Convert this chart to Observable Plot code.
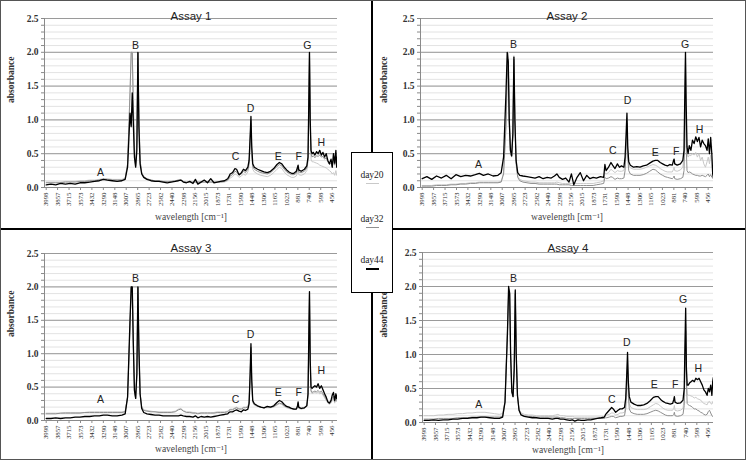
<!DOCTYPE html>
<html>
<head>
<meta charset="utf-8">
<script src="https://cdn.jsdelivr.net/npm/d3@7"></script>
<script src="https://cdn.jsdelivr.net/npm/@observablehq/plot@0.6"></script>
<style>
  html, body { margin: 0; padding: 0; background: #fff; }
  #wrap { position: relative; width: 746px; height: 460px; overflow: hidden; background: #fff; }
  .panel { position: absolute; }
  .line { position: absolute; background: #000; }
  #legend { position: absolute; left: 351px; top: 152px; width: 40px; height: 139px; border: 1.5px solid #000; background: #fff;
            font-family: "Liberation Serif", "DejaVu Serif", serif; font-size: 9.5px; color: #222; }
  #legend .lab { position: absolute; left: 0; width: 40px; text-align: center; }
  #legend .sw { position: absolute; left: 14px; width: 13px; }
  #frame { position: absolute; left: 0; top: 0; width: 746px; height: 460px; box-sizing: border-box; border: 1.5px solid #555; pointer-events: none; }
</style>
</head>
<body>
<div id="wrap"></div>
<script>
// ---- shared wavenumber grid (cm^-1) ----
const wavenumbers = [
3998,3940,3880,3820,3760,3700,3640,3580,3520,3460,
3400,3340,3290,3240,3180,3120,3060,3020,2990,2960,
2945,2932,2920,2905,2890,2875,2862,2850,2835,2815,
2790,2750,2700,2650,2600,2550,2500,2450,2400,2360,
2330,2300,2260,2220,2180,2150,2120,2080,2040,2000,
1960,1920,1880,1840,1790,1750,1735,1720,1690,1660,
1640,1610,1580,1555,1530,1500,1485,1472,1462,1452,
1440,1420,1380,1340,1300,1260,1220,1180,1140,1110,
1080,1050,1020,990,960,930,900,885,878,870,
840,800,770,755,745,737,728,718,705,690,
670,650,630,610,590,570,550,530,510,490,
470,455,440,425,410,400,392];

const tickLabels = [3998,3857,3715,3573,3432,3290,3148,3007,2865,2723,2582,2440,2298,2156,2015,1873,1731,1590,1448,1306,1165,1023,881,740,598,456];
const seriesNames = ["day20","day32","day44"];
const titles = ["Assay 1","Assay 2","Assay 3","Assay 4"];

// ---- Assay 1 ----
const a1_day20 = [
0.08,0.08,0.08,0.08,0.09,0.09,0.09,0.10,0.10,0.11,
0.11,0.12,0.13,0.13,0.12,0.12,0.12,0.14,0.35,1.40,
2.00,2.00,1.30,0.50,0.33,0.70,2.00,1.10,0.40,0.22,
0.16,0.13,0.11,0.10,0.10,0.09,0.09,0.09,0.10,0.11,
0.11,0.09,0.08,0.08,0.08,0.08,0.08,0.08,0.08,0.08,
0.08,0.08,0.08,0.08,0.08,0.10,0.12,0.14,0.16,0.20,
0.19,0.15,0.17,0.20,0.18,0.23,0.32,0.65,0.95,0.50,
0.27,0.23,0.20,0.18,0.17,0.16,0.18,0.22,0.27,0.30,
0.28,0.23,0.19,0.17,0.15,0.15,0.17,0.22,0.26,0.19,
0.18,0.20,0.25,0.38,1.10,2.00,0.90,0.42,0.38,0.38,
0.37,0.36,0.35,0.33,0.32,0.31,0.30,0.29,0.27,0.25,
0.23,0.20,0.22,0.18,0.25,0.18,0.20];
const a1_day32 = [
0.07,0.07,0.07,0.07,0.08,0.08,0.08,0.09,0.09,0.10,
0.10,0.11,0.12,0.12,0.11,0.11,0.11,0.13,0.35,1.40,
2.00,2.00,1.30,0.50,0.32,0.70,2.00,1.10,0.40,0.22,
0.16,0.13,0.11,0.10,0.10,0.09,0.09,0.09,0.10,0.11,
0.11,0.09,0.08,0.08,0.08,0.08,0.08,0.08,0.08,0.08,
0.08,0.08,0.08,0.08,0.09,0.11,0.14,0.17,0.19,0.24,
0.23,0.18,0.20,0.24,0.22,0.27,0.36,0.70,1.00,0.55,
0.31,0.27,0.24,0.22,0.21,0.20,0.22,0.26,0.31,0.34,
0.32,0.27,0.23,0.21,0.19,0.19,0.21,0.27,0.30,0.23,
0.22,0.24,0.29,0.42,1.20,2.00,0.95,0.50,0.45,0.47,
0.44,0.47,0.46,0.48,0.45,0.46,0.42,0.44,0.38,0.34,
0.36,0.30,0.42,0.33,0.45,0.30,0.38];
const a1_day44 = [
0.04,0.05,0.04,0.06,0.05,0.06,0.05,0.07,0.07,0.08,
0.09,0.10,0.12,0.11,0.10,0.09,0.10,0.12,0.30,1.10,
0.90,1.40,1.00,0.45,0.30,0.55,2.00,0.90,0.35,0.20,
0.15,0.12,0.10,0.09,0.09,0.08,0.07,0.08,0.09,0.10,
0.11,0.08,0.07,0.09,0.06,0.12,0.05,0.08,0.11,0.07,
0.13,0.07,0.08,0.09,0.10,0.13,0.16,0.20,0.22,0.28,
0.27,0.19,0.22,0.27,0.25,0.30,0.40,0.75,1.05,0.60,
0.35,0.30,0.27,0.25,0.23,0.22,0.24,0.28,0.34,0.37,
0.35,0.30,0.26,0.23,0.21,0.21,0.24,0.30,0.33,0.26,
0.24,0.27,0.32,0.45,1.30,2.00,1.00,0.55,0.50,0.52,
0.48,0.53,0.50,0.55,0.48,0.52,0.45,0.50,0.40,0.35,
0.42,0.30,0.50,0.36,0.55,0.30,0.45];

// ---- Assay 2 ----
const a2_day20 = [
0.03,0.03,0.03,0.04,0.04,0.04,0.05,0.05,0.06,0.06,
0.07,0.07,0.08,0.08,0.08,0.08,0.08,0.09,0.22,1.00,
1.80,2.00,1.10,0.52,0.46,0.78,1.95,1.05,0.38,0.17,
0.12,0.10,0.09,0.08,0.08,0.07,0.07,0.07,0.07,0.07,
0.08,0.07,0.06,0.06,0.06,0.06,0.06,0.06,0.06,0.06,
0.06,0.06,0.06,0.07,0.08,0.10,0.22,0.20,0.22,0.27,
0.25,0.22,0.25,0.24,0.24,0.25,0.36,0.70,1.02,0.55,
0.33,0.29,0.27,0.27,0.27,0.28,0.30,0.32,0.34,0.33,
0.31,0.28,0.26,0.24,0.23,0.23,0.23,0.27,0.30,0.25,
0.24,0.26,0.30,0.45,1.20,1.90,1.00,0.50,0.45,0.48,
0.47,0.50,0.48,0.52,0.45,0.50,0.40,0.45,0.35,0.30,
0.38,0.45,0.35,0.48,0.40,0.20,0.15];
const a2_day32 = [
0.02,0.02,0.02,0.03,0.03,0.03,0.04,0.04,0.05,0.05,
0.06,0.06,0.07,0.07,0.07,0.07,0.07,0.08,0.20,0.90,
1.60,1.90,1.00,0.50,0.45,0.75,1.90,1.00,0.35,0.15,
0.10,0.08,0.07,0.06,0.06,0.05,0.05,0.05,0.05,0.05,
0.05,0.04,0.04,0.04,0.04,0.03,0.03,0.03,0.03,0.03,
0.03,0.03,0.03,0.04,0.05,0.06,0.15,0.13,0.14,0.16,
0.15,0.12,0.14,0.13,0.13,0.14,0.25,0.60,0.95,0.45,
0.25,0.20,0.18,0.18,0.18,0.19,0.21,0.24,0.27,0.26,
0.23,0.20,0.18,0.16,0.15,0.14,0.13,0.15,0.17,0.13,
0.12,0.13,0.15,0.25,0.90,1.35,0.60,0.25,0.22,0.23,
0.22,0.20,0.19,0.18,0.18,0.17,0.17,0.18,0.17,0.16,
0.18,0.20,0.16,0.19,0.15,0.14,0.13];
const a2_day44 = [
0.13,0.16,0.12,0.17,0.14,0.18,0.13,0.19,0.16,0.18,
0.17,0.19,0.21,0.18,0.20,0.17,0.18,0.22,0.45,1.40,
2.00,1.85,1.00,0.55,0.47,0.80,1.93,1.00,0.40,0.22,
0.18,0.17,0.16,0.15,0.14,0.16,0.13,0.15,0.14,0.17,
0.20,0.15,0.12,0.14,0.08,0.20,0.04,0.15,0.22,0.10,
0.18,0.13,0.15,0.14,0.16,0.15,0.34,0.25,0.30,0.37,
0.33,0.28,0.35,0.30,0.32,0.30,0.45,0.80,1.10,0.60,
0.38,0.33,0.30,0.31,0.30,0.32,0.33,0.36,0.39,0.40,
0.40,0.37,0.35,0.33,0.32,0.34,0.33,0.40,0.42,0.35,
0.33,0.35,0.40,0.55,1.40,2.00,1.20,0.60,0.50,0.62,
0.55,0.70,0.65,0.75,0.68,0.74,0.60,0.70,0.65,0.62,
0.55,0.72,0.50,0.74,0.48,0.20,0.15];

// ---- Assay 3 ----
const a3_day20 = [
0.11,0.11,0.11,0.11,0.12,0.12,0.12,0.12,0.12,0.13,
0.13,0.13,0.13,0.13,0.13,0.13,0.13,0.14,0.36,1.40,
2.00,2.00,1.20,0.46,0.34,0.70,2.00,1.10,0.40,0.21,
0.16,0.15,0.14,0.13,0.13,0.13,0.13,0.13,0.14,0.17,
0.18,0.15,0.13,0.13,0.12,0.12,0.11,0.12,0.12,0.12,
0.12,0.12,0.13,0.13,0.13,0.14,0.16,0.17,0.17,0.19,
0.20,0.18,0.18,0.20,0.20,0.21,0.28,0.66,1.08,0.56,
0.27,0.23,0.21,0.20,0.19,0.19,0.19,0.20,0.23,0.25,
0.24,0.21,0.19,0.18,0.17,0.17,0.17,0.19,0.25,0.18,
0.17,0.18,0.21,0.36,1.20,1.88,0.82,0.43,0.40,0.41,
0.42,0.41,0.42,0.40,0.41,0.38,0.34,0.30,0.26,0.24,
0.26,0.30,0.33,0.26,0.32,0.28,0.30];
const a3_day32 = [
0.10,0.10,0.10,0.11,0.11,0.11,0.11,0.11,0.12,0.12,
0.12,0.12,0.12,0.12,0.12,0.12,0.12,0.13,0.35,1.40,
2.00,2.00,1.20,0.45,0.33,0.70,2.00,1.10,0.40,0.20,
0.15,0.14,0.13,0.13,0.12,0.12,0.12,0.12,0.13,0.16,
0.17,0.14,0.12,0.12,0.11,0.11,0.10,0.11,0.11,0.11,
0.11,0.11,0.12,0.12,0.12,0.13,0.15,0.16,0.16,0.18,
0.19,0.17,0.17,0.19,0.19,0.20,0.28,0.68,1.10,0.58,
0.28,0.24,0.21,0.20,0.19,0.20,0.20,0.21,0.24,0.26,
0.25,0.22,0.20,0.19,0.18,0.17,0.17,0.20,0.26,0.19,
0.18,0.19,0.22,0.38,1.25,1.90,0.85,0.45,0.42,0.43,
0.44,0.43,0.45,0.42,0.44,0.40,0.36,0.32,0.28,0.26,
0.28,0.33,0.36,0.28,0.35,0.30,0.33];
const a3_day44 = [
0.03,0.03,0.04,0.03,0.04,0.04,0.05,0.05,0.06,0.06,
0.07,0.07,0.08,0.08,0.07,0.07,0.08,0.10,0.35,1.50,
2.00,2.00,1.20,0.45,0.33,0.70,2.00,1.10,0.40,0.18,
0.12,0.10,0.09,0.08,0.08,0.07,0.07,0.07,0.07,0.07,
0.08,0.07,0.06,0.06,0.05,0.07,0.04,0.06,0.05,0.06,
0.05,0.06,0.07,0.08,0.09,0.10,0.12,0.13,0.13,0.15,
0.16,0.14,0.13,0.16,0.15,0.17,0.25,0.70,1.15,0.60,
0.30,0.25,0.22,0.20,0.19,0.21,0.20,0.22,0.27,0.30,
0.28,0.24,0.21,0.20,0.18,0.17,0.17,0.22,0.28,0.20,
0.18,0.19,0.22,0.40,1.30,1.93,0.90,0.50,0.48,0.50,
0.52,0.50,0.55,0.48,0.52,0.46,0.40,0.35,0.28,0.26,
0.30,0.38,0.42,0.30,0.40,0.33,0.38];

// ---- Assay 4 ----
const a4_day20 = [
0.10,0.10,0.10,0.11,0.11,0.12,0.12,0.13,0.13,0.14,
0.14,0.15,0.15,0.15,0.14,0.13,0.12,0.13,0.32,1.35,
1.95,1.95,1.00,0.46,0.38,0.80,1.93,1.00,0.40,0.20,
0.14,0.12,0.11,0.11,0.10,0.10,0.10,0.10,0.10,0.11,
0.12,0.10,0.10,0.09,0.09,0.09,0.08,0.08,0.08,0.08,
0.08,0.08,0.08,0.08,0.08,0.09,0.10,0.11,0.12,0.14,
0.14,0.11,0.12,0.14,0.14,0.15,0.26,0.60,0.92,0.48,
0.28,0.22,0.20,0.19,0.19,0.19,0.20,0.23,0.26,0.28,
0.27,0.24,0.21,0.19,0.18,0.18,0.18,0.21,0.25,0.18,
0.17,0.18,0.21,0.35,1.00,1.45,0.70,0.42,0.40,0.40,
0.39,0.38,0.36,0.37,0.35,0.34,0.33,0.30,0.28,0.27,
0.26,0.30,0.31,0.28,0.27,0.30,0.32];
const a4_day32 = [
0.05,0.05,0.05,0.06,0.06,0.06,0.06,0.07,0.07,0.07,
0.08,0.08,0.08,0.08,0.08,0.08,0.08,0.09,0.30,1.30,
1.90,1.90,1.00,0.45,0.38,0.80,1.90,1.00,0.40,0.18,
0.12,0.10,0.09,0.09,0.08,0.08,0.08,0.08,0.08,0.08,
0.08,0.07,0.07,0.06,0.06,0.06,0.06,0.06,0.06,0.06,
0.06,0.06,0.06,0.06,0.06,0.06,0.07,0.07,0.08,0.09,
0.09,0.07,0.08,0.09,0.09,0.10,0.20,0.55,0.85,0.40,
0.20,0.15,0.13,0.12,0.12,0.12,0.13,0.15,0.17,0.18,
0.17,0.15,0.13,0.11,0.10,0.10,0.10,0.12,0.15,0.10,
0.09,0.10,0.12,0.25,0.90,1.35,0.60,0.28,0.26,0.25,
0.24,0.22,0.20,0.20,0.18,0.17,0.15,0.14,0.12,0.11,
0.12,0.16,0.18,0.14,0.10,0.09,0.08];
const a4_day44 = [
0.03,0.03,0.04,0.03,0.04,0.04,0.05,0.05,0.06,0.06,
0.07,0.07,0.08,0.08,0.07,0.06,0.06,0.08,0.30,1.30,
2.00,1.90,1.00,0.45,0.38,0.80,1.95,1.00,0.40,0.18,
0.11,0.09,0.08,0.07,0.07,0.06,0.06,0.06,0.05,0.06,
0.06,0.05,0.05,0.04,0.03,0.04,0.02,0.04,0.03,0.03,
0.04,0.04,0.05,0.06,0.07,0.08,0.12,0.14,0.18,0.22,
0.20,0.15,0.18,0.20,0.20,0.22,0.35,0.70,1.03,0.60,
0.38,0.30,0.27,0.25,0.25,0.26,0.28,0.32,0.37,0.38,
0.38,0.34,0.31,0.29,0.28,0.27,0.28,0.34,0.38,0.30,
0.28,0.29,0.33,0.50,1.20,1.68,0.80,0.55,0.55,0.58,
0.60,0.62,0.60,0.65,0.63,0.65,0.60,0.55,0.48,0.45,
0.40,0.50,0.45,0.55,0.40,0.60,0.66];

// ---- peak letters: [letter, wavenumber, absorbance] ----
const peakLetters = ["A","B","C","D","E","F","G","H"];
const a1_peakX = [3326,2892,1653,1468,1125,869,765,592];
const a1_peakY = [0.22,2.10,0.45,1.17,0.45,0.45,2.10,0.66];
const a2_peakX = [3301,2867,1637,1455,1112,852,741,563];
const a2_peakY = [0.34,2.11,0.54,1.28,0.52,0.53,2.11,0.86];
const a3_peakX = [3326,2892,1653,1468,1125,869,765,592];
const a3_peakY = [0.31,2.13,0.31,1.29,0.42,0.42,2.13,0.74];
const a4_peakX = [3317,2883,1657,1471,1128,868,769,580];
const a4_peakY = [0.26,2.12,0.33,1.18,0.55,0.55,1.80,0.79];

const seriesColors = {day20: "#c9c9c9", day32: "#8f8f8f", day44: "#000000"};
const seriesWidths = {day20: 1, day32: 1, day44: 1.3};

const panels = [
  {title: titles[0], series: [a1_day20, a1_day32, a1_day44], px: a1_peakX, py: a1_peakY,
   left: 0, top: 0, width: 373, height: 229, mL: 44, mR: 36, mT: 18, mB: 42, titleDy: -7, ylabDx: -34, xlabDy: 32},
  {title: titles[1], series: [a2_day20, a2_day32, a2_day44], px: a2_peakX, py: a2_peakY,
   left: 373, top: 0, width: 373, height: 229, mL: 47, mR: 33, mT: 18, mB: 42, titleDy: -7, ylabDx: -37, xlabDy: 32},
  {title: titles[2], series: [a3_day20, a3_day32, a3_day44], px: a3_peakX, py: a3_peakY,
   left: 0, top: 229, width: 373, height: 231, mL: 44, mR: 36, mT: 24, mB: 40, titleDy: -10, ylabDx: -34, xlabDy: 31},
  {title: titles[3], series: [a4_day20, a4_day32, a4_day44], px: a4_peakX, py: a4_peakY,
   left: 373, top: 229, width: 373, height: 231, mL: 49, mR: 33, mT: 23, mB: 38, titleDy: -9, ylabDx: -39, xlabDy: 30}
];

const minorTicks = d3.range(0, 26).map(i => i / 10);
const majorTicks = [0.5, 1.0, 1.5, 2.0, 2.5];
const serif = "Liberation Serif, DejaVu Serif, serif";
const sans = "Liberation Sans, Arial, sans-serif";

const wrap = document.getElementById("wrap");

for (const p of panels) {
  const rows = [];
  p.series.forEach((vals, si) => {
    vals.forEach((v, i) => rows.push({wn: wavenumbers[i], a: v, s: seriesNames[si]}));
  });
  const letters = peakLetters.map((l, i) => ({l, x: p.px[i], y: p.py[i]}));

  const chart = Plot.plot({
    width: p.width,
    height: p.height,
    marginLeft: p.mL, marginRight: p.mR, marginTop: p.mT, marginBottom: p.mB,
    style: {fontFamily: serif, fontSize: "7px", background: "white", color: "#222"},
    x: {domain: [4019, 390], axis: null},
    y: {domain: [0, 2.5], axis: null},
    marks: [
      Plot.gridY(minorTicks, {stroke: "#dcdcdc", strokeOpacity: 1, strokeWidth: 0.8}),
      Plot.gridY(majorTicks, {stroke: "#9a9a9a", strokeOpacity: 1, strokeWidth: 1}),
      Plot.ruleY([0], {stroke: "#8a8a8a"}),
      Plot.ruleX([4019], {stroke: "#8a8a8a"}),
      Plot.axisY(minorTicks, {
        tickSize: 3, stroke: "#8a8a8a", tickPadding: 3,
        tickFormat: d => (Math.round(d * 10) % 5 === 0 ? d.toFixed(1) : ""),
        fontSize: 9.5, fontWeight: "bold", fill: "#333", fontFamily: serif, label: null
      }),
      Plot.axisX(tickLabels, {
        tickSize: 3, stroke: "#8a8a8a", tickRotate: -90, tickPadding: 2,
        tickFormat: d => String(d), fontSize: 6.8, fill: "#333", fontFamily: serif, label: null
      }),
      ...seriesNames.map(name => Plot.line(rows.filter(r => r.s === name), {
        x: "wn", y: "a", stroke: seriesColors[name], strokeWidth: seriesWidths[name], clip: true
      })),
      Plot.text(letters, {x: "x", y: "y", text: "l", fontSize: 10.5, fontFamily: sans, fill: "#222"}),
      Plot.text([p.title], {frameAnchor: "top", dy: p.titleDy, fontSize: 11.5, fontFamily: sans, fill: "#222"}),
      Plot.text(["absorbance"], {frameAnchor: "left", dx: p.ylabDx, rotate: -90, fontSize: 9.5, fontWeight: "bold", fontFamily: serif, fill: "#333"}),
      Plot.text(["wavelength [cm\u207B\u00B9]"], {frameAnchor: "bottom", dy: p.xlabDy, fontSize: 9.5, fontFamily: serif, fill: "#444"})
    ]
  });
  const div = document.createElement("div");
  div.className = "panel";
  div.style.left = p.left + "px";
  div.style.top = p.top + "px";
  div.style.width = p.width + "px";
  div.style.height = p.height + "px";
  div.appendChild(chart);
  wrap.appendChild(div);
}

// dividers
const vline = document.createElement("div");
vline.className = "line";
Object.assign(vline.style, {left: "371px", top: "0px", width: "2px", height: "460px"});
wrap.appendChild(vline);
const hline = document.createElement("div");
hline.className = "line";
Object.assign(hline.style, {left: "0px", top: "228px", width: "746px", height: "2px"});
wrap.appendChild(hline);

// legend
const legend = document.createElement("div");
legend.id = "legend";
const legendItems = [
  {name: "day20", textTop: 17, swTop: 30, h: 1.2},
  {name: "day32", textTop: 61, swTop: 74, h: 1.4},
  {name: "day44", textTop: 102, swTop: 115, h: 2}
];
for (const it of legendItems) {
  const t = document.createElement("div");
  t.className = "lab";
  t.style.top = it.textTop + "px";
  t.textContent = it.name;
  legend.appendChild(t);
  const sw = document.createElement("div");
  sw.className = "sw";
  sw.style.top = it.swTop + "px";
  sw.style.height = it.h + "px";
  sw.style.background = seriesColors[it.name];
  legend.appendChild(sw);
}
wrap.appendChild(legend);

const frame = document.createElement("div");
frame.id = "frame";
wrap.appendChild(frame);
</script>
</body>
</html>
